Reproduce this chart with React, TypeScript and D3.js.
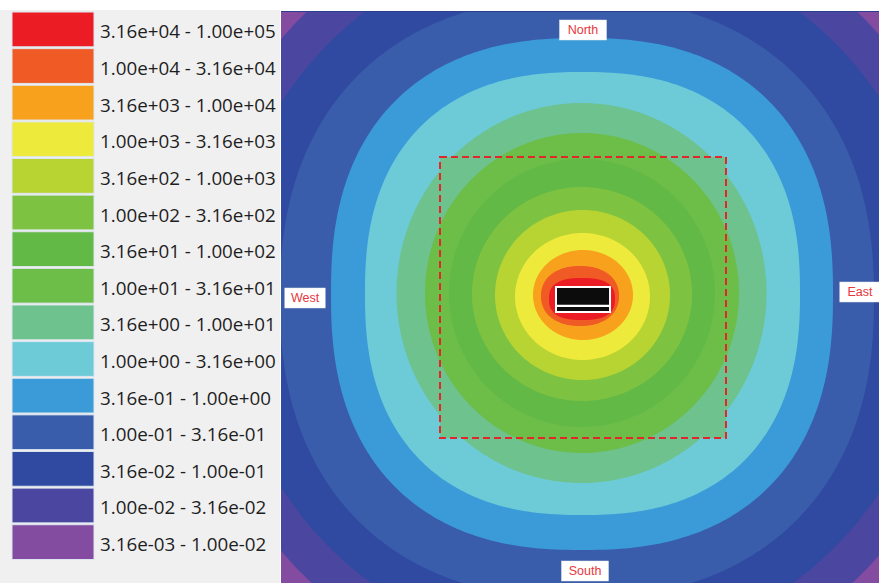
import React from "react";
import * as d3 from "d3";

// concentration classes, top of legend first
const bandLabels = [
  "3.16e+04 - 1.00e+05",
  "1.00e+04 - 3.16e+04",
  "3.16e+03 - 1.00e+04",
  "1.00e+03 - 3.16e+03",
  "3.16e+02 - 1.00e+03",
  "1.00e+02 - 3.16e+02",
  "3.16e+01 - 1.00e+02",
  "1.00e+01 - 3.16e+01",
  "3.16e+00 - 1.00e+01",
  "1.00e+00 - 3.16e+00",
  "3.16e-01 - 1.00e+00",
  "1.00e-01 - 3.16e-01",
  "3.16e-02 - 1.00e-01",
  "1.00e-02 - 3.16e-02",
  "3.16e-03 - 1.00e-02",
];
const bandColors = [
  "#ec1c24", "#f05a24", "#f7a11c", "#eeea3b", "#b7d433",
  "#7ec242", "#63b946", "#6dbd49", "#6dc28e", "#6dcbd8",
  "#3b9bd8", "#3a5dab", "#2f4aa0", "#4b47a1", "#844ca0",
];

// outer edge of each class (m from the source, north up)
const bandCx = [0, -2, 1, 0.5, 0.5, 0, 0, 0, -0.5, 0.5, 0, -5, 0, 0, 0];
const bandCy = [-6, -3, -2, -3.5, -2, -1, 0, 0, 0, -0.5, -1, -5, -2, -2, 0];
const bandRx = [33, 39, 50, 67.5, 87.5, 110, 133, 157, 185, 217.5, 251, 297, 357, 395, 0];
const bandRy = [21, 30, 45, 63.5, 85, 107, 134, 160, 190, 221.5, 256, 300, 357, 395, 0];
const bandExp = [2.6, 2.2, 2, 2, 2, 2, 2, 2, 2, 2.4, 2.4, 2.3, 2, 2, 2];

// receptor grid (dashed) and the source
const gridX = [-142, 144];
const gridY = [-145, 136];
const sourceX = [-27, 29];
const sourceY = [-20, 7];

const dirNames = ["North", "South", "West", "East"];
const dirX = [1, 3, -277, 278];
const dirY = [263, -278, -5, 1];

const W = 879;
const H = 583;

const App = () => {
  const x = d3.scaleLinear().domain([-301, 297]).range([281, 879]);
  const y = d3.scaleLinear().domain([282, -290]).range([11, 583]);
  const row = d3
    .scaleBand<string>()
    .domain(bandLabels)
    .range([12, 12 + 15 * 36.5])
    .paddingInner(0.05);

  const angles = d3.range(0, 2 * Math.PI, Math.PI / 180);
  const line = d3
    .line<[number, number]>()
    .x((d) => x(d[0]))
    .y((d) => y(d[1]))
    .curve(d3.curveLinearClosed);

  const shape = (i: number) => {
    const n = bandExp[i];
    const pts = angles.map((t) => {
      const c = Math.cos(t);
      const s = Math.sin(t);
      return [
        bandCx[i] + bandRx[i] * Math.sign(c) * Math.pow(Math.abs(c), 2 / n),
        bandCy[i] + bandRy[i] * Math.sign(s) * Math.pow(Math.abs(s), 2 / n),
      ] as [number, number];
    });
    return line(pts) || "";
  };

  const order = d3.range(13, -1, -1);

  return (
    <svg
      width={W}
      height={H}
      style={{ position: "absolute", left: 0, top: 0, display: "block" }}
    >
      <rect x={0} y={0} width={W} height={H} fill="#ffffff" />
      {/* legend panel */}
      <rect x={0} y={10} width={280} height={H - 10} fill="#f0f0f0" />
      {bandLabels.map((lab, i) => (
        <g key={lab}>
          <rect
            x={12}
            y={row(lab)}
            width={82}
            height={row.bandwidth()}
            fill={bandColors[i]}
            stroke="#dde6ee"
            strokeWidth={1}
          />
          <text
            x={100}
            y={(row(lab) as number) + row.bandwidth() / 2 + 2}
            dominantBaseline="central"
            fontFamily="'Open Sans', 'Noto Sans', sans-serif"
            fontSize={18.8}
            fill="#1e1e1e"
          >
            {lab}
          </text>
        </g>
      ))}

      {/* map */}
      <defs>
        <clipPath id="mapclip">
          <rect x={x(-301)} y={y(282)} width={x(297) - x(-301)} height={y(-290) - y(282)} />
        </clipPath>
      </defs>
      <g clipPath="url(#mapclip)">
        <rect
          x={x(-301)}
          y={y(282)}
          width={x(297) - x(-301)}
          height={y(-290) - y(282)}
          fill={bandColors[14]}
        />
        {order.map((i) => (
          <React.Fragment key={i}>
            <path d={shape(i)} fill={bandColors[i]} />
            {i === 8 && (
              <rect
                x={x(gridX[0])}
                y={y(gridY[1])}
                width={x(gridX[1]) - x(gridX[0])}
                height={y(gridY[0]) - y(gridY[1])}
                fill={bandColors[8]}
              />
            )}
          </React.Fragment>
        ))}
        <line x1={x(-301)} x2={x(297)} y1={y(282) + 0.5} y2={y(282) + 0.5} stroke="#2b3f8f" />
      </g>

      {/* receptor grid outline */}
      <rect
        x={x(gridX[0])}
        y={y(gridY[1])}
        width={x(gridX[1]) - x(gridX[0])}
        height={y(gridY[0]) - y(gridY[1])}
        fill="none"
        stroke="#e3262b"
        strokeWidth={2}
        strokeDasharray="7 4"
      />

      {/* source */}
      <rect
        x={x(sourceX[0])}
        y={y(sourceY[1])}
        width={x(sourceX[1]) - x(sourceX[0])}
        height={y(sourceY[0]) - y(sourceY[1])}
        fill="#ffffff"
      />
      <rect
        x={x(sourceX[0]) + 2}
        y={y(sourceY[1]) + 2}
        width={x(sourceX[1]) - x(sourceX[0]) - 4}
        height={(y(sourceY[0]) - y(sourceY[1])) * 0.62}
        fill="#0c0c0c"
      />
      <rect
        x={x(sourceX[0]) + 2}
        y={y(sourceY[0]) - 6}
        width={x(sourceX[1]) - x(sourceX[0]) - 4}
        height={4}
        fill="#0c0c0c"
      />

      {/* direction labels */}
      {dirNames.map((name, i) => {
        const w = name.length * 6.6 + 14;
        return (
          <g key={name} transform={`translate(${x(dirX[i])},${y(dirY[i])})`}>
            <rect x={-w / 2} y={-10} width={w} height={20} fill="#ffffff" stroke="#e8e8e8" strokeWidth={0.5} />
            <text
              textAnchor="middle"
              dominantBaseline="central"
              fontFamily="Arial, 'Liberation Sans', sans-serif"
              fontSize={12.5}
              fill="#e8363c"
            >
              {name}
            </text>
          </g>
        );
      })}
    </svg>
  );
};

export default App;
